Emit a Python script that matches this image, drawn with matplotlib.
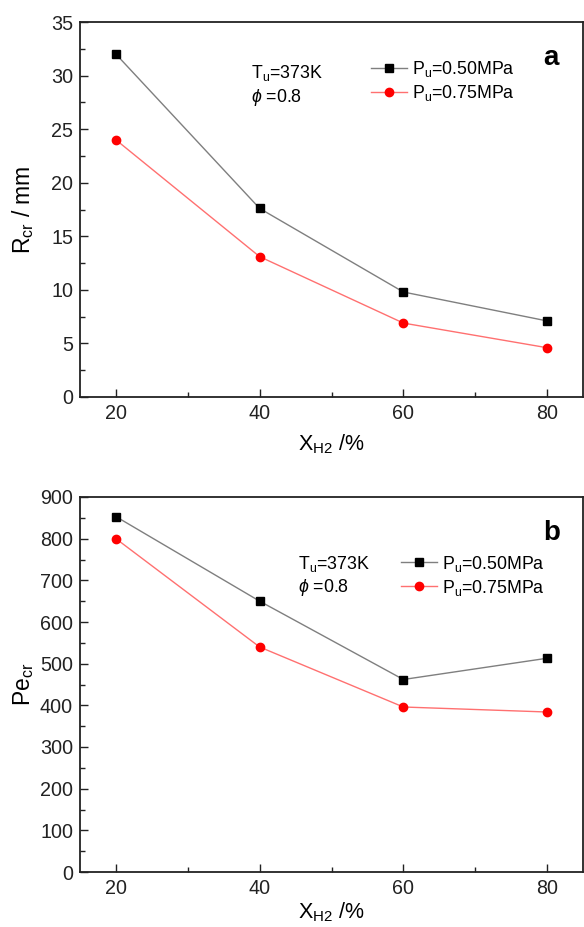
import matplotlib
matplotlib.use("Agg")
import matplotlib.pyplot as plt
from matplotlib.ticker import MultipleLocator

plt.rcParams["font.family"] = ["Liberation Sans", "DejaVu Sans"]
plt.rcParams["mathtext.fontset"] = "custom"
plt.rcParams["mathtext.rm"] = "Liberation Sans"
plt.rcParams["mathtext.it"] = "Liberation Sans:italic"
plt.rcParams["mathtext.bf"] = "Liberation Sans:bold"

# Hydrogen fraction (%)
x_h2 = [20, 40, 60, 80]

# Critical radius (mm)
rcr_050 = [32.0, 17.6, 9.8, 7.1]
rcr_075 = [24.0, 13.1, 6.9, 4.6]

# Critical Peclet number
pe_050 = [853, 650, 462, 513]
pe_075 = [800, 540, 396, 384]

series_labels = [r"P$_{\rm u}$=0.50MPa", r"P$_{\rm u}$=0.75MPa"]

W, H = 584, 927
fig = plt.figure(figsize=(W / 100, H / 100), dpi=100)

left = 80 / W
width = (583 - 80) / W
ax_a = fig.add_axes([left, 1 - 397 / H, width, (397 - 22) / H])
ax_b = fig.add_axes([left, 1 - 872 / H, width, (872 - 497) / H])

tick_fs = 14.2
label_fs = 15.5
note_fs = 12.8


def style_axes(ax, ymax, ymajor, xpad):
    ax.set_xlim(15, 85)
    ax.set_ylim(0, ymax)
    ax.xaxis.set_major_locator(MultipleLocator(20))
    ax.xaxis.set_minor_locator(MultipleLocator(10))
    ax.yaxis.set_major_locator(MultipleLocator(ymajor))
    ax.yaxis.set_minor_locator(MultipleLocator(ymajor / 2))
    ax.tick_params(which="both", direction="in", top=False, right=False,
                   labelsize=tick_fs, colors="#222222", width=1.0)
    ax.tick_params(which="major", length=6, pad=5)
    ax.tick_params(which="minor", length=3.5)
    for s in ax.spines.values():
        s.set_linewidth(1.3)
        s.set_color("#222222")
    ax.set_xlabel(r"X$_{\rm H2}$ /%", fontsize=label_fs, labelpad=xpad)
    ax.yaxis.set_label_coords(-0.088, 0.5)


def draw(ax, y1, y2):
    ax.plot(x_h2, y1, color="#7f7f7f", lw=1.0, marker="s", ms=5.2,
            mfc="black", mec="black", label=series_labels[0], zorder=3)
    ax.plot(x_h2, y2, color="#ff7070", lw=1.0, marker="o", ms=6,
            mfc="#ff0000", mec="#ff0000", label=series_labels[1], zorder=3)


# Panel a: critical radius
draw(ax_a, rcr_050, rcr_075)
style_axes(ax_a, 35, 5, 7)
ax_a.set_ylabel(r"R$_{\rm cr}$ / mm", fontsize=label_fs + 1)
ax_a.text(0.340, 0.865, r"T$_{\rm u}$=373K", transform=ax_a.transAxes,
          fontsize=note_fs, va="center", ha="left")
ax_a.text(0.340, 0.800, r"$\it{\phi}$ =0.8", transform=ax_a.transAxes,
          fontsize=note_fs, va="center", ha="left")
ax_a.legend(loc="upper left", bbox_to_anchor=(0.565, 0.920), frameon=False,
            fontsize=note_fs, handlelength=2.0, handletextpad=0.3,
            labelspacing=0.22, borderaxespad=0)
ax_a.text(0.937, 0.905, "a", transform=ax_a.transAxes, fontsize=20,
          fontweight="bold", ha="center", va="center")

# Panel b: critical Peclet number
draw(ax_b, pe_050, pe_075)
style_axes(ax_b, 900, 100, 2)
ax_b.set_ylabel(r"Pe$_{\rm cr}$", fontsize=label_fs + 1)
ax_b.text(0.433, 0.82, r"T$_{\rm u}$=373K", transform=ax_b.transAxes,
          fontsize=note_fs, va="center", ha="left")
ax_b.text(0.433, 0.76, r"$\it{\phi}$ =0.8", transform=ax_b.transAxes,
          fontsize=note_fs, va="center", ha="left")
ax_b.legend(loc="upper left", bbox_to_anchor=(0.625, 0.868), frameon=False,
            fontsize=note_fs, handlelength=2.0, handletextpad=0.3,
            labelspacing=0.22, borderaxespad=0)
ax_b.text(0.937, 0.905, "b", transform=ax_b.transAxes, fontsize=20,
          fontweight="bold", ha="center", va="center")

fig.savefig("out.png", dpi=100, facecolor="white")
